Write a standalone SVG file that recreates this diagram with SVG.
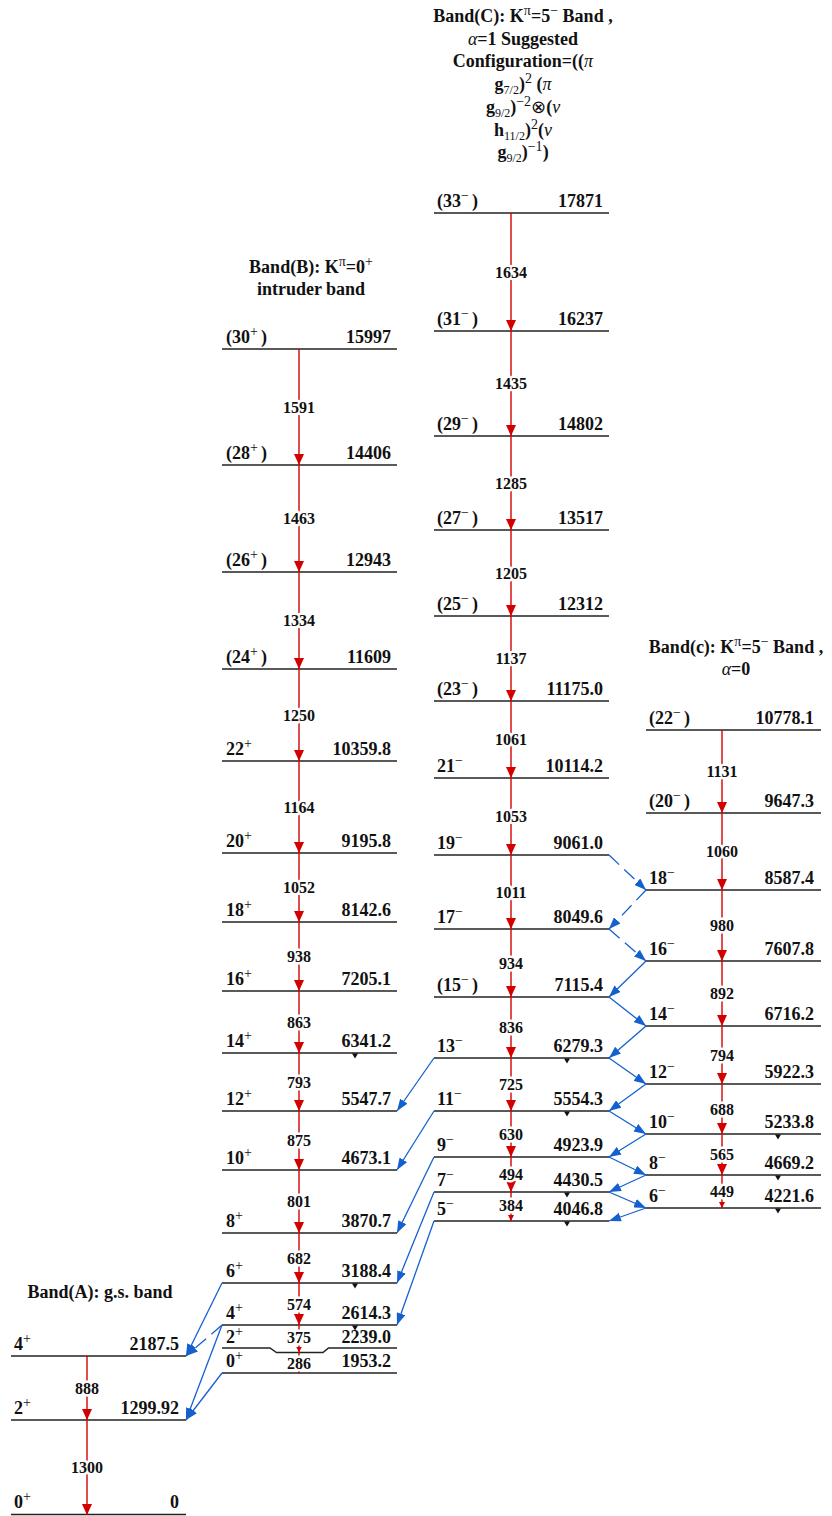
<svg xmlns="http://www.w3.org/2000/svg" width="832" height="1516" viewBox="0 0 832 1516">
<style>
.lvl{stroke:#222;stroke-width:1.5;fill:none}
.g{stroke:#d40000;stroke-width:1.4;fill:none;marker-end:url(#ar)}
.gs{stroke:#d40000;stroke-width:1.4;fill:none;marker-end:url(#ars)}
.b{stroke:#1560d0;stroke-width:1.3;fill:none;marker-end:url(#ab)}
.bd{stroke-dasharray:14 7}
.t{font-family:"Liberation Serif","Times New Roman",serif;font-weight:bold;font-size:18px;fill:#111}
.e{text-anchor:end}
.m{text-anchor:middle}
.s{font-size:14px;font-weight:normal}
.sb{font-size:12px;font-weight:normal}
.i{font-style:italic;font-weight:normal}
.gl{font-family:"Liberation Serif","Times New Roman",serif;font-weight:bold;font-size:16px;fill:#111;text-anchor:middle;paint-order:stroke;stroke:#fff;stroke-width:5;stroke-linejoin:round}
.tri{fill:#111}
</style>
<defs>
<marker id="ar" markerUnits="userSpaceOnUse" viewBox="0 0 11 10" markerWidth="11" markerHeight="10" refX="11" refY="5" orient="auto"><path d="M0,0 L11,5 L0,10 z" fill="#d40000"/></marker>
<marker id="ars" markerUnits="userSpaceOnUse" viewBox="0 0 6 6" markerWidth="6" markerHeight="6" refX="6" refY="3" orient="auto"><path d="M0,0 L6,3 L0,6 z" fill="#d40000"/></marker>
<marker id="ab" markerUnits="userSpaceOnUse" viewBox="0 0 12 9" markerWidth="12" markerHeight="9" refX="12" refY="4.5" orient="auto"><path d="M0,0 L12,4.5 L0,9 z" fill="#1560d0"/></marker>
</defs>

<!-- Titles -->
<g id="titleC">
<text class="t m" x="523" y="22">Band(C): K<tspan class="s" dy="-7">π</tspan><tspan dy="7">=5</tspan><tspan class="s" dy="-7">−</tspan><tspan dy="7"> Band ,</tspan></text>
<text class="t m" x="523" y="44.5"><tspan class="i">α</tspan>=1 Suggested</text>
<text class="t m" x="523" y="67">Configuration=((<tspan class="i">π</tspan></text>
<text class="t m" x="523" y="90">g<tspan class="sb" dy="4">7/2</tspan><tspan dy="-4">)</tspan><tspan class="s" dy="-7">2</tspan><tspan dy="7"> (</tspan><tspan class="i">π</tspan></text>
<text class="t m" x="523" y="113">g<tspan class="sb" dy="4">9/2</tspan><tspan dy="-4">)</tspan><tspan class="s" dy="-7">−2</tspan><tspan dy="7" font-weight="normal">⊗</tspan>(<tspan class="i">ν</tspan></text>
<text class="t m" x="523" y="135.5">h<tspan class="sb" dy="4">11/2</tspan><tspan dy="-4">)</tspan><tspan class="s" dy="-7">2</tspan><tspan dy="7">(</tspan><tspan class="i">ν</tspan></text>
<text class="t m" x="523" y="158">g<tspan class="sb" dy="4">9/2</tspan><tspan dy="-4">)</tspan><tspan class="s" dy="-7">−1</tspan><tspan dy="7">)</tspan></text>
</g>
<g id="titleB">
<text class="t m" x="311" y="272.5">Band(B): K<tspan class="s" dy="-7">π</tspan><tspan dy="7">=0</tspan><tspan class="s" dy="-7">+</tspan></text>
<text class="t m" x="311" y="295">intruder band</text>
</g>
<g id="titlec">
<text class="t m" x="736" y="652.5">Band(c): K<tspan class="s" dy="-7">π</tspan><tspan dy="7">=5</tspan><tspan class="s" dy="-7">−</tspan><tspan dy="7"> Band ,</tspan></text>
<text class="t m" x="736" y="675"><tspan class="i">α</tspan>=0</text>
</g>
<g id="titleA">
<text class="t m" x="100" y="1298">Band(A): g.s. band</text>
</g>

<!-- Band A levels -->
<g id="A0"><line class="lvl" x1="11" y1="1514.5" x2="186" y2="1514.5"/><text class="t" x="14" y="1508">0<tspan class="s" dy="-7">+</tspan></text><text class="t e" x="179" y="1508">0</text></g>
<g id="A2"><line class="lvl" x1="11" y1="1420" x2="186" y2="1420"/><text class="t" x="14" y="1414">2<tspan class="s" dy="-7">+</tspan></text><text class="t e" x="179" y="1414">1299.92</text></g>
<g id="A4"><line class="lvl" x1="11" y1="1356" x2="186" y2="1356"/><text class="t" x="14" y="1350">4<tspan class="s" dy="-7">+</tspan></text><text class="t e" x="179" y="1350">2187.5</text></g>

<!-- Band B levels -->
<g id="B30"><line class="lvl" x1="222" y1="349" x2="397" y2="349"/><text class="t" x="226" y="343">(30<tspan class="s" dy="-7">+</tspan><tspan dy="7" dx="3">)</tspan></text><text class="t e" x="391" y="343">15997</text></g>
<g id="B28"><line class="lvl" x1="222" y1="465" x2="397" y2="465"/><text class="t" x="226" y="459">(28<tspan class="s" dy="-7">+</tspan><tspan dy="7" dx="3">)</tspan></text><text class="t e" x="391" y="459">14406</text></g>
<g id="B26"><line class="lvl" x1="222" y1="572" x2="397" y2="572"/><text class="t" x="226" y="566">(26<tspan class="s" dy="-7">+</tspan><tspan dy="7" dx="3">)</tspan></text><text class="t e" x="391" y="566">12943</text></g>
<g id="B24"><line class="lvl" x1="222" y1="669" x2="397" y2="669"/><text class="t" x="226" y="663">(24<tspan class="s" dy="-7">+</tspan><tspan dy="7" dx="3">)</tspan></text><text class="t e" x="391" y="663">11609</text></g>
<g id="B22"><line class="lvl" x1="222" y1="761" x2="397" y2="761"/><text class="t" x="226" y="755">22<tspan class="s" dy="-7">+</tspan></text><text class="t e" x="391" y="755">10359.8</text></g>
<g id="B20"><line class="lvl" x1="222" y1="853" x2="397" y2="853"/><text class="t" x="226" y="847">20<tspan class="s" dy="-7">+</tspan></text><text class="t e" x="391" y="847">9195.8</text></g>
<g id="B18"><line class="lvl" x1="222" y1="922" x2="397" y2="922"/><text class="t" x="226" y="916">18<tspan class="s" dy="-7">+</tspan></text><text class="t e" x="391" y="916">8142.6</text></g>
<g id="B16"><line class="lvl" x1="222" y1="991" x2="397" y2="991"/><text class="t" x="226" y="985">16<tspan class="s" dy="-7">+</tspan></text><text class="t e" x="391" y="985">7205.1</text></g>
<g id="B14"><line class="lvl" x1="222" y1="1053" x2="397" y2="1053"/><text class="t" x="226" y="1047">14<tspan class="s" dy="-7">+</tspan></text><text class="t e" x="391" y="1047">6341.2</text><polygon class="tri" points="352,1053.5 358,1053.5 355,1058.5"/></g>
<g id="B12"><line class="lvl" x1="222" y1="1111" x2="397" y2="1111"/><text class="t" x="226" y="1105">12<tspan class="s" dy="-7">+</tspan></text><text class="t e" x="391" y="1105">5547.7</text></g>
<g id="B10"><line class="lvl" x1="222" y1="1170" x2="397" y2="1170"/><text class="t" x="226" y="1164">10<tspan class="s" dy="-7">+</tspan></text><text class="t e" x="391" y="1164">4673.1</text></g>
<g id="B8"><line class="lvl" x1="222" y1="1233" x2="397" y2="1233"/><text class="t" x="226" y="1227">8<tspan class="s" dy="-7">+</tspan></text><text class="t e" x="391" y="1227">3870.7</text></g>
<g id="B6"><line class="lvl" x1="222" y1="1283" x2="397" y2="1283"/><text class="t" x="226" y="1277">6<tspan class="s" dy="-7">+</tspan></text><text class="t e" x="391" y="1277">3188.4</text><polygon class="tri" points="352,1283.5 358,1283.5 355,1288.5"/></g>
<g id="B4"><line class="lvl" x1="222" y1="1325" x2="397" y2="1325"/><text class="t" x="226" y="1318.5">4<tspan class="s" dy="-7">+</tspan></text><text class="t e" x="391" y="1318.5">2614.3</text><polygon class="tri" points="352,1325.5 358,1325.5 355,1330.5"/></g>
<g id="B2"><path class="lvl" d="M222,1348 L270,1348 L276.5,1352.5 L323,1352.5 L328.5,1348 L397,1348"/><text class="t" x="226" y="1343">2<tspan class="s" dy="-7">+</tspan></text><text class="t e" x="391" y="1343">2239.0</text></g>
<g id="B0"><line class="lvl" x1="222" y1="1373" x2="397" y2="1373"/><text class="t" x="226" y="1367">0<tspan class="s" dy="-7">+</tspan></text><text class="t e" x="391" y="1367">1953.2</text></g>

<!-- Band C levels -->
<g id="C33"><line class="lvl" x1="434" y1="213" x2="609" y2="213"/><text class="t" x="437" y="207">(33<tspan class="s" dy="-7">−</tspan><tspan dy="7" dx="3">)</tspan></text><text class="t e" x="603" y="207">17871</text></g>
<g id="C31"><line class="lvl" x1="434" y1="331" x2="609" y2="331"/><text class="t" x="437" y="325">(31<tspan class="s" dy="-7">−</tspan><tspan dy="7" dx="3">)</tspan></text><text class="t e" x="603" y="325">16237</text></g>
<g id="C29"><line class="lvl" x1="434" y1="436" x2="609" y2="436"/><text class="t" x="437" y="430">(29<tspan class="s" dy="-7">−</tspan><tspan dy="7" dx="3">)</tspan></text><text class="t e" x="603" y="430">14802</text></g>
<g id="C27"><line class="lvl" x1="434" y1="530" x2="609" y2="530"/><text class="t" x="437" y="524">(27<tspan class="s" dy="-7">−</tspan><tspan dy="7" dx="3">)</tspan></text><text class="t e" x="603" y="524">13517</text></g>
<g id="C25"><line class="lvl" x1="434" y1="616" x2="609" y2="616"/><text class="t" x="437" y="610">(25<tspan class="s" dy="-7">−</tspan><tspan dy="7" dx="3">)</tspan></text><text class="t e" x="603" y="610">12312</text></g>
<g id="C23"><line class="lvl" x1="434" y1="701" x2="609" y2="701"/><text class="t" x="437" y="695">(23<tspan class="s" dy="-7">−</tspan><tspan dy="7" dx="3">)</tspan></text><text class="t e" x="603" y="695">11175.0</text></g>
<g id="C21"><line class="lvl" x1="434" y1="778" x2="609" y2="778"/><text class="t" x="437" y="772">21<tspan class="s" dy="-7">−</tspan></text><text class="t e" x="603" y="772">10114.2</text></g>
<g id="C19"><line class="lvl" x1="434" y1="855" x2="609" y2="855"/><text class="t" x="437" y="849">19<tspan class="s" dy="-7">−</tspan></text><text class="t e" x="603" y="849">9061.0</text></g>
<g id="C17"><line class="lvl" x1="434" y1="929" x2="609" y2="929"/><text class="t" x="437" y="923">17<tspan class="s" dy="-7">−</tspan></text><text class="t e" x="603" y="923">8049.6</text></g>
<g id="C15"><line class="lvl" x1="434" y1="997" x2="609" y2="997"/><text class="t" x="437" y="991">(15<tspan class="s" dy="-7">−</tspan><tspan dy="7" dx="3">)</tspan></text><text class="t e" x="603" y="991">7115.4</text></g>
<g id="C13"><line class="lvl" x1="434" y1="1058" x2="609" y2="1058"/><text class="t" x="437" y="1052">13<tspan class="s" dy="-7">−</tspan></text><text class="t e" x="603" y="1052">6279.3</text><polygon class="tri" points="564,1058.5 570,1058.5 567,1063.5"/></g>
<g id="C11"><line class="lvl" x1="434" y1="1111" x2="609" y2="1111"/><text class="t" x="437" y="1105">11<tspan class="s" dy="-7">−</tspan></text><text class="t e" x="603" y="1105">5554.3</text><polygon class="tri" points="564,1111.5 570,1111.5 567,1116.5"/></g>
<g id="C9"><line class="lvl" x1="434" y1="1157" x2="609" y2="1157"/><text class="t" x="437" y="1151">9<tspan class="s" dy="-7">−</tspan></text><text class="t e" x="603" y="1151">4923.9</text></g>
<g id="C7"><line class="lvl" x1="434" y1="1192" x2="609" y2="1192"/><text class="t" x="437" y="1186">7<tspan class="s" dy="-7">−</tspan></text><text class="t e" x="603" y="1186">4430.5</text><polygon class="tri" points="564,1192.5 570,1192.5 567,1197.5"/></g>
<g id="C5"><line class="lvl" x1="434" y1="1221" x2="609" y2="1221"/><text class="t" x="437" y="1215">5<tspan class="s" dy="-7">−</tspan></text><text class="t e" x="603" y="1215">4046.8</text><polygon class="tri" points="564,1221.5 570,1221.5 567,1226.5"/></g>

<!-- Band c levels -->
<g id="c22"><line class="lvl" x1="646" y1="730" x2="821" y2="730"/><text class="t" x="649" y="724">(22<tspan class="s" dy="-7">−</tspan><tspan dy="7" dx="3">)</tspan></text><text class="t e" x="814" y="724">10778.1</text></g>
<g id="c20"><line class="lvl" x1="646" y1="813" x2="821" y2="813"/><text class="t" x="649" y="807">(20<tspan class="s" dy="-7">−</tspan><tspan dy="7" dx="3">)</tspan></text><text class="t e" x="814" y="807">9647.3</text></g>
<g id="c18"><line class="lvl" x1="646" y1="890" x2="821" y2="890"/><text class="t" x="649" y="884">18<tspan class="s" dy="-7">−</tspan></text><text class="t e" x="814" y="884">8587.4</text></g>
<g id="c16"><line class="lvl" x1="646" y1="961" x2="821" y2="961"/><text class="t" x="649" y="955">16<tspan class="s" dy="-7">−</tspan></text><text class="t e" x="814" y="955">7607.8</text></g>
<g id="c14"><line class="lvl" x1="646" y1="1026" x2="821" y2="1026"/><text class="t" x="649" y="1020">14<tspan class="s" dy="-7">−</tspan></text><text class="t e" x="814" y="1020">6716.2</text></g>
<g id="c12"><line class="lvl" x1="646" y1="1084" x2="821" y2="1084"/><text class="t" x="649" y="1078">12<tspan class="s" dy="-7">−</tspan></text><text class="t e" x="814" y="1078">5922.3</text></g>
<g id="c10"><line class="lvl" x1="646" y1="1134" x2="821" y2="1134"/><text class="t" x="649" y="1128">10<tspan class="s" dy="-7">−</tspan></text><text class="t e" x="814" y="1128">5233.8</text><polygon class="tri" points="775,1134.5 781,1134.5 778,1139.5"/></g>
<g id="c8"><line class="lvl" x1="646" y1="1175" x2="821" y2="1175"/><text class="t" x="649" y="1169">8<tspan class="s" dy="-7">−</tspan></text><text class="t e" x="814" y="1169">4669.2</text><polygon class="tri" points="775,1175.5 781,1175.5 778,1180.5"/></g>
<g id="c6"><line class="lvl" x1="646" y1="1208" x2="821" y2="1208"/><text class="t" x="649" y="1202">6<tspan class="s" dy="-7">−</tspan></text><text class="t e" x="814" y="1202">4221.6</text><polygon class="tri" points="775,1208.5 781,1208.5 778,1213.5"/></g>

<!-- Connectors -->
<g id="connectors">
<line class="g" x1="87" y1="1356" x2="87" y2="1420"/>
<line class="g" x1="87" y1="1420" x2="87" y2="1515"/>
<line class="g" x1="299" y1="349" x2="299" y2="465"/>
<line class="g" x1="299" y1="465" x2="299" y2="572"/>
<line class="g" x1="299" y1="572" x2="299" y2="669"/>
<line class="g" x1="299" y1="669" x2="299" y2="761"/>
<line class="g" x1="299" y1="761" x2="299" y2="853"/>
<line class="g" x1="299" y1="853" x2="299" y2="922"/>
<line class="g" x1="299" y1="922" x2="299" y2="991"/>
<line class="g" x1="299" y1="991" x2="299" y2="1053"/>
<line class="g" x1="299" y1="1053" x2="299" y2="1111"/>
<line class="g" x1="299" y1="1111" x2="299" y2="1170"/>
<line class="g" x1="299" y1="1170" x2="299" y2="1233"/>
<line class="g" x1="299" y1="1233" x2="299" y2="1283"/>
<line class="g" x1="299" y1="1283" x2="299" y2="1325"/>
<line class="gs" x1="299" y1="1325" x2="299" y2="1352.5"/>
<line class="gs" x1="299" y1="1352.5" x2="299" y2="1373"/>
<line class="g" x1="511" y1="213" x2="511" y2="331"/>
<line class="g" x1="511" y1="331" x2="511" y2="436"/>
<line class="g" x1="511" y1="436" x2="511" y2="530"/>
<line class="g" x1="511" y1="530" x2="511" y2="616"/>
<line class="g" x1="511" y1="616" x2="511" y2="701"/>
<line class="g" x1="511" y1="701" x2="511" y2="778"/>
<line class="g" x1="511" y1="778" x2="511" y2="855"/>
<line class="g" x1="511" y1="855" x2="511" y2="929"/>
<line class="g" x1="511" y1="929" x2="511" y2="997"/>
<line class="g" x1="511" y1="997" x2="511" y2="1058"/>
<line class="g" x1="511" y1="1058" x2="511" y2="1111"/>
<line class="g" x1="511" y1="1111" x2="511" y2="1157"/>
<line class="g" x1="511" y1="1157" x2="511" y2="1192"/>
<line class="gs" x1="511" y1="1192" x2="511" y2="1221"/>
<line class="g" x1="722" y1="730" x2="722" y2="813"/>
<line class="g" x1="722" y1="813" x2="722" y2="890"/>
<line class="g" x1="722" y1="890" x2="722" y2="961"/>
<line class="g" x1="722" y1="961" x2="722" y2="1026"/>
<line class="g" x1="722" y1="1026" x2="722" y2="1084"/>
<line class="g" x1="722" y1="1084" x2="722" y2="1134"/>
<line class="g" x1="722" y1="1134" x2="722" y2="1175"/>
<line class="gs" x1="722" y1="1175" x2="722" y2="1208"/>

<line class="b bd" x1="222" y1="1325" x2="186" y2="1356"/>
<line class="b" x1="222" y1="1325" x2="186" y2="1420"/>
<line class="b" x1="222" y1="1283" x2="186" y2="1356"/>
<line class="b" x1="222" y1="1373" x2="186" y2="1420"/>
<line class="b" x1="434" y1="1221" x2="397" y2="1325"/>
<line class="b" x1="434" y1="1192" x2="397" y2="1283"/>
<line class="b" x1="434" y1="1157" x2="397" y2="1233"/>
<line class="b" x1="434" y1="1111" x2="397" y2="1170"/>
<line class="b" x1="434" y1="1058" x2="397" y2="1111"/>
<line class="b bd" x1="609" y1="855" x2="646" y2="890"/>
<line class="b bd" x1="646" y1="890" x2="609" y2="929"/>
<line class="b bd" x1="609" y1="929" x2="646" y2="961"/>
<line class="b" x1="646" y1="961" x2="609" y2="997"/>
<line class="b" x1="609" y1="997" x2="646" y2="1026"/>
<line class="b" x1="646" y1="1026" x2="609" y2="1058"/>
<line class="b" x1="609" y1="1058" x2="646" y2="1084"/>
<line class="b" x1="646" y1="1084" x2="609" y2="1111"/>
<line class="b" x1="609" y1="1111" x2="646" y2="1134"/>
<line class="b" x1="646" y1="1134" x2="609" y2="1157"/>
<line class="b" x1="609" y1="1157" x2="646" y2="1175"/>
<line class="b" x1="646" y1="1175" x2="609" y2="1192"/>
<line class="b" x1="609" y1="1192" x2="646" y2="1208"/>
<line class="b" x1="646" y1="1208" x2="609" y2="1221"/>

<text class="gl" x="87" y="1393.5">888</text>
<text class="gl" x="87" y="1473">1300</text>
<text class="gl" x="299" y="412.5">1591</text>
<text class="gl" x="299" y="524">1463</text>
<text class="gl" x="299" y="626">1334</text>
<text class="gl" x="299" y="720.5">1250</text>
<text class="gl" x="299" y="812.5">1164</text>
<text class="gl" x="299" y="893">1052</text>
<text class="gl" x="299" y="962">938</text>
<text class="gl" x="299" y="1027.5">863</text>
<text class="gl" x="299" y="1087.5">793</text>
<text class="gl" x="299" y="1146">875</text>
<text class="gl" x="299" y="1207">801</text>
<text class="gl" x="299" y="1263.5">682</text>
<text class="gl" x="299" y="1309.5">574</text>
<text class="gl" x="299" y="1342.5">375</text>
<text class="gl" x="299" y="1368.5">286</text>
<text class="gl" x="511" y="277.5">1634</text>
<text class="gl" x="511" y="389">1435</text>
<text class="gl" x="511" y="488.5">1285</text>
<text class="gl" x="511" y="578.5">1205</text>
<text class="gl" x="511" y="664">1137</text>
<text class="gl" x="511" y="745">1061</text>
<text class="gl" x="511" y="822">1053</text>
<text class="gl" x="511" y="897.5">1011</text>
<text class="gl" x="511" y="968.5">934</text>
<text class="gl" x="511" y="1033">836</text>
<text class="gl" x="511" y="1090">725</text>
<text class="gl" x="511" y="1139.5">630</text>
<text class="gl" x="511" y="1180">494</text>
<text class="gl" x="511" y="1211">384</text>
<text class="gl" x="722" y="777">1131</text>
<text class="gl" x="722" y="857">1060</text>
<text class="gl" x="722" y="931">980</text>
<text class="gl" x="722" y="999">892</text>
<text class="gl" x="722" y="1060.5">794</text>
<text class="gl" x="722" y="1114.5">688</text>
<text class="gl" x="722" y="1160">565</text>
<text class="gl" x="722" y="1197">449</text>
</g>
</svg>
